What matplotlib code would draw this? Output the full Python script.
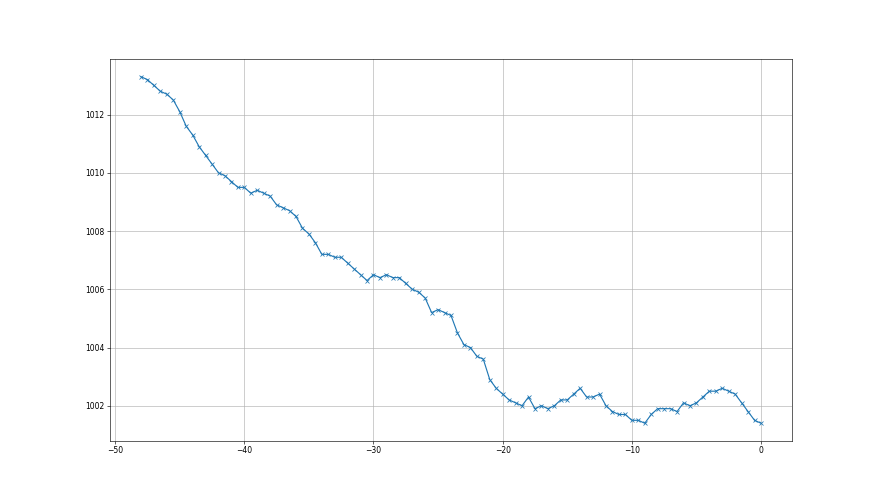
import numpy as np
import matplotlib
matplotlib.use("Agg")
import matplotlib.pyplot as plt

hours = [-48 + 0.5 * i for i in range(97)]
pressure = [
    1013.3, 1013.2, 1013.0, 1012.8, 1012.7, 1012.5, 1012.1, 1011.6, 1011.3, 1010.9,
    1010.6, 1010.3, 1010.0, 1009.9, 1009.7, 1009.5, 1009.5, 1009.3, 1009.4, 1009.3,
    1009.2, 1008.9, 1008.8, 1008.7, 1008.5, 1008.1, 1007.9, 1007.6, 1007.2, 1007.2,
    1007.1, 1007.1, 1006.9, 1006.7, 1006.5, 1006.3, 1006.5, 1006.4, 1006.5, 1006.4,
    1006.4, 1006.2, 1006.0, 1005.9, 1005.7, 1005.2, 1005.3, 1005.2, 1005.1, 1004.5,
    1004.1, 1004.0, 1003.7, 1003.6, 1002.9, 1002.6, 1002.4, 1002.2, 1002.1, 1002.0,
    1002.3, 1001.9, 1002.0, 1001.9, 1002.0, 1002.2, 1002.2, 1002.4, 1002.6, 1002.3,
    1002.3, 1002.4, 1002.0, 1001.8, 1001.7, 1001.7, 1001.5, 1001.5, 1001.4, 1001.7,
    1001.9, 1001.9, 1001.9, 1001.8, 1002.1, 1002.0, 1002.1, 1002.3, 1002.5, 1002.5,
    1002.6, 1002.5, 1002.4, 1002.1, 1001.8, 1001.5, 1001.4,
]

fig, ax = plt.subplots(figsize=(16, 9), dpi=55)
ax.plot(hours, pressure, marker='x', color='#1f77b4')
ax.grid(True, color='#b0b0b0', linewidth=0.8)
fig.savefig("out.png", dpi=55)
